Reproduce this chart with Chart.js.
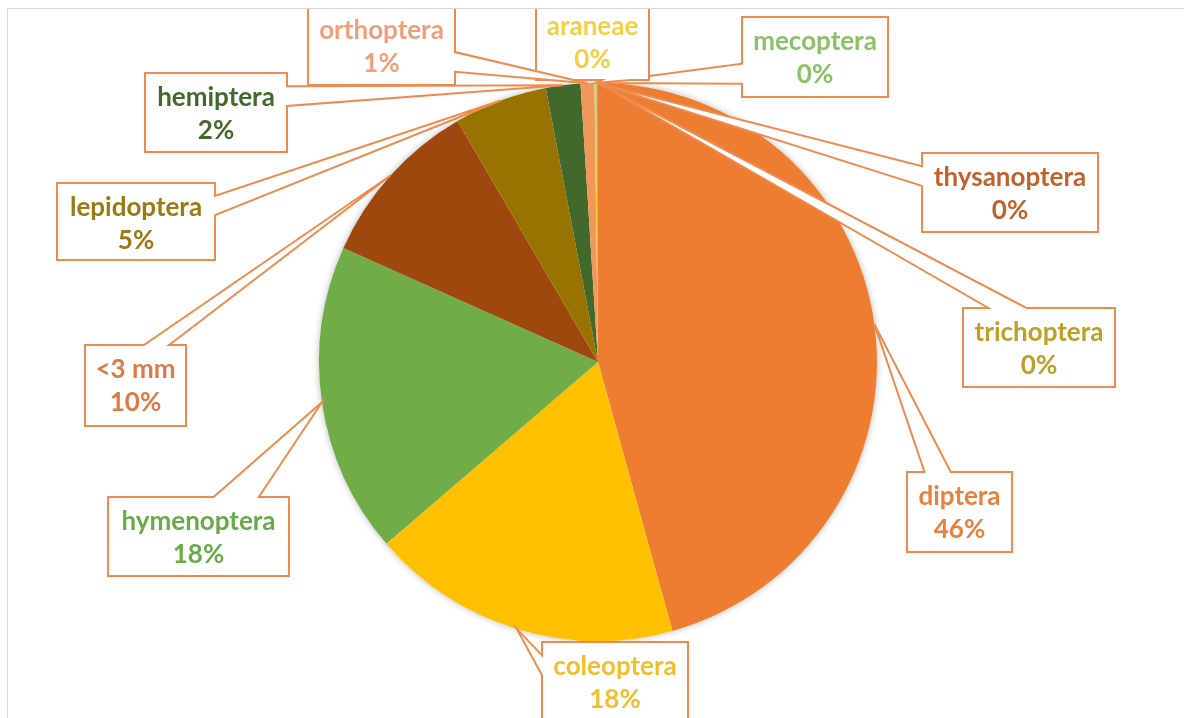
<!DOCTYPE html>
<html>
<head>
<meta charset="utf-8">
<script src="https://cdn.jsdelivr.net/npm/chart.js@4/dist/chart.umd.min.js"></script>
<style>
  html, body { margin: 0; padding: 0; background: #ffffff; }
  #wrap { width: 1184px; height: 718px; position: relative; }
</style>
</head>
<body>
<div id="wrap"><canvas id="c" width="1184" height="718"></canvas></div>
<script>
// ---- data ----
const categories = ["diptera", "coleoptera", "hymenoptera", "<3 mm", "lepidoptera", "hemiptera",
                    "orthoptera", "araneae", "mecoptera", "thysanoptera", "trichoptera"];
const shares = [45.7, 18.0, 18.0, 9.9, 5.4, 2.0, 0.8, 0.1, 0.05, 0.03, 0.02];

// ---- styles ----
const sliceColors = ["#ED7D31", "#FFC000", "#70AD47", "#9E480E", "#997300", "#43682B",
                     "#F1975A", "#FFCD33", "#8CC168", "#C55A11", "#BF9000"];
const labelColors = ["#E8823F", "#F2BE2C", "#6AAA48", "#DE7B45", "#9A7A12", "#43682B",
                     "#EDA07A", "#F5CF45", "#8CC168", "#C0622A", "#BFA024"];
// label box layout (left, top, right, bottom) and optional wedge side
const labelBoxes = [
  [907, 472, 1012, 552],
  [542, 642, 688, 722, "left"],
  [108, 497, 289, 576],
  [85, 345, 186, 426],
  [57, 183, 215, 260],
  [145, 73, 287, 152],
  [308, 6, 455, 85],
  [536, 2, 649, 80],
  [742, 17, 888, 97],
  [922, 153, 1098, 232],
  [963, 308, 1115, 387]
];

const total = shares.reduce((a, b) => a + b, 0);

function calloutPath(ctx, box, tip) {
  const l = box[0], t = box[1], r = box[2], b = box[3];
  const w = r - l, h = b - t;
  const hc = (l + r) / 2, vc = (t + b) / 2;
  const dx = tip.x - hc, dy = tip.y - vc;
  const dq = dx * h / w;
  let side;
  if (box[4]) side = box[4];
  else if (Math.abs(dy) > Math.abs(dq)) side = dy < 0 ? "top" : "bottom";
  else side = dx < 0 ? "left" : "right";
  const x1 = l + w * (dx > 0 ? 7 : 2) / 12, x2 = l + w * (dx > 0 ? 10 : 5) / 12;
  const y1 = t + h * (dy > 0 ? 7 : 2) / 12, y2 = t + h * (dy > 0 ? 10 : 5) / 12;
  ctx.beginPath();
  ctx.moveTo(l, t);
  if (side === "top") { ctx.lineTo(x1, t); ctx.lineTo(tip.x, tip.y); ctx.lineTo(x2, t); }
  ctx.lineTo(r, t);
  if (side === "right") { ctx.lineTo(r, y1); ctx.lineTo(tip.x, tip.y); ctx.lineTo(r, y2); }
  ctx.lineTo(r, b);
  if (side === "bottom") { ctx.lineTo(x2, b); ctx.lineTo(tip.x, tip.y); ctx.lineTo(x1, b); }
  ctx.lineTo(l, b);
  if (side === "left") { ctx.lineTo(l, y2); ctx.lineTo(tip.x, tip.y); ctx.lineTo(l, y1); }
  ctx.closePath();
}

const shadowPlugin = {
  id: "pieShadow",
  beforeDatasetsDraw(chart) {
    const arc = chart.getDatasetMeta(0).data[0];
    if (!arc) return;
    const ctx = chart.ctx;
    ctx.save();
    ctx.shadowColor = "rgba(0,0,0,0.28)";
    ctx.shadowBlur = 7;
    ctx.beginPath();
    ctx.arc(arc.x, arc.y, arc.outerRadius, 0, Math.PI * 2);
    ctx.fillStyle = "#ffffff";
    ctx.fill();
    ctx.restore();
  }
};

const calloutPlugin = {
  id: "callouts",
  afterDatasetsDraw(chart) {
    const ctx = chart.ctx;
    const meta = chart.getDatasetMeta(0);
    ctx.save();
    ctx.beginPath();
    ctx.rect(8, 9, chart.width - 8, chart.height - 9);
    ctx.clip();
    for (let i = meta.data.length - 1; i >= 0; i--) {
      const arc = meta.data[i];
      const mid = (arc.startAngle + arc.endAngle) / 2;
      const tip = { x: arc.x + Math.cos(mid) * arc.outerRadius, y: arc.y + Math.sin(mid) * arc.outerRadius };
      const box = labelBoxes[i];
      calloutPath(ctx, box, tip);
      ctx.fillStyle = "#ffffff";
      ctx.fill();
      ctx.lineWidth = 2;
      ctx.lineJoin = "miter";
      ctx.strokeStyle = "#EE8B4E";
      ctx.stroke();
      const cx = (box[0] + box[2]) / 2;
      ctx.fillStyle = labelColors[i];
      ctx.font = "bold 26px Lato, 'Open Sans', sans-serif";
      ctx.textAlign = "center";
      ctx.textBaseline = "middle";
      ctx.fillText(chart.data.labels[i], cx, box[1] + 25);
      const pct = Math.round(chart.data.datasets[0].data[i] / total * 100) + "%";
      ctx.fillText(pct, cx, box[1] + 58);
    }
    ctx.restore();
    ctx.save();
    ctx.strokeStyle = "#D9D9D9";
    ctx.lineWidth = 1;
    ctx.strokeRect(7.5, 8.5, chart.width + 20, chart.height + 20);
    ctx.restore();
  }
};

new Chart(document.getElementById("c"), {
  type: "pie",
  data: {
    labels: categories,
    datasets: [{
      data: shares,
      backgroundColor: sliceColors,
      borderWidth: 0
    }]
  },
  options: {
    responsive: false,
    devicePixelRatio: 1,
    animation: false,
    layout: { padding: { left: 319, right: 307, top: 83, bottom: 77 } },
    plugins: {
      legend: { display: false },
      tooltip: { enabled: false },
      title: { display: false }
    }
  },
  plugins: [shadowPlugin, calloutPlugin]
});
</script>
</body>
</html>
